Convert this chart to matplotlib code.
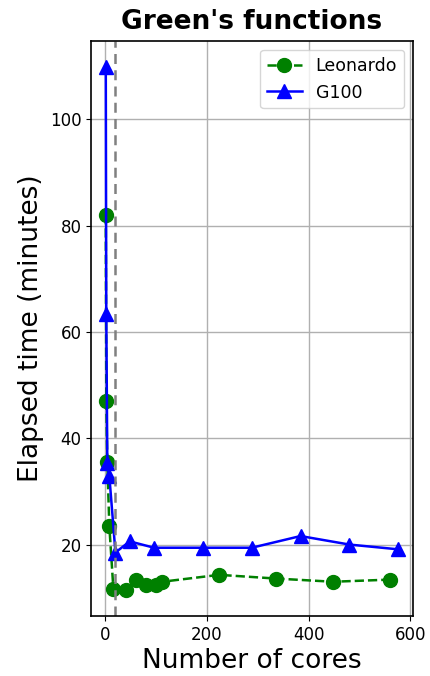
import matplotlib
matplotlib.use('Agg')
import matplotlib.pyplot as plt

# Leonardo (green) timings
leo_cores = [1, 2, 4, 8, 16, 40, 60, 80, 100, 112, 224, 336, 448, 560]
leo_time = [82.0, 47.0, 35.5, 23.4, 11.6, 11.5, 13.4, 12.3, 12.4, 13.0, 14.3, 13.6, 13.0, 13.4]

# G100 (blue) timings
g100_cores = [1, 2, 4, 8, 20, 48, 96, 192, 288, 384, 480, 576]
g100_time = [109.8, 63.3, 35.4, 32.9, 18.5, 20.6, 19.4, 19.4, 19.4, 21.6, 20.0, 19.1]

node_line = 20

fig = plt.figure(figsize=(4.3, 6.76), dpi=100)
ax = fig.add_axes([0.212, 0.089, 0.748, 0.850])

ax.plot(leo_cores, leo_time, 'o--', color='green', markersize=10, linewidth=1.8, label='Leonardo')
ax.plot(g100_cores, g100_time, '^-', color='blue', markersize=10, linewidth=1.8, label='G100')
ax.axvline(node_line, color='gray', linestyle=(0, (4, 2.5)), linewidth=1.8)

ax.set_title("Green's functions", fontsize=19, fontweight='bold', pad=9)
ax.set_xlabel('Number of cores', fontsize=19, labelpad=3)
ax.set_ylabel('Elapsed time (minutes)', fontsize=19)
ax.tick_params(labelsize=12)
ax.set_xticks([0, 200, 400, 600])
ax.grid(True, color='#b0b0b0', linewidth=1)
for s in ax.spines.values():
    s.set_linewidth(1.2)
ax.legend(loc='upper right', fontsize=12.5)

fig.savefig('out.png', dpi=100)
